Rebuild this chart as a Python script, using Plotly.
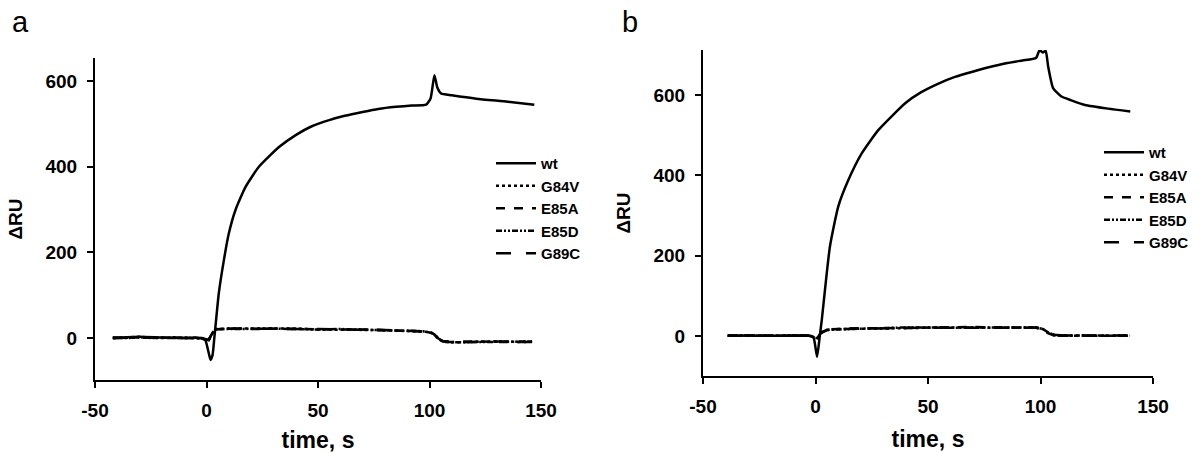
import plotly.graph_objects as go

# ---------------- Panel a data ----------------
a_wt_t = [-42, -30, -20, -10, -2, -0.5, 1, 1.8, 2.7, 3.5, 4.0, 5.5, 7.8, 10, 13, 17.5, 23.5,
          32.5, 40, 47, 55, 62, 70, 77, 85, 92, 98.5, 100.5, 102.2, 103.5, 105.2, 110, 121, 135, 147]
a_wt_v = [0, 3, 1, 0, 0, -5, -35, -51, -40, 0, 26, 104, 182, 244, 299, 353, 400,
          446, 474, 494, 509, 519, 528, 535, 540, 543, 545, 560, 614, 585, 571, 567, 559, 552, 545]

a_mut_t = [-42, -35, -30, -25, -20, -15, -10, -5, -1, 1, 2.5, 4, 10, 20, 30, 40, 50, 60, 70,
           80, 90, 97, 100, 102, 104, 106, 110, 120, 130, 140, 146]
a_g84v = [0, 1, 3, 1, 0, 1, 0, 0, -3, -4, 10, 21, 22, 22, 21, 22, 20, 20, 19,
          18, 17, 15, 14, 10, -2, -8, -10, -9, -8, -9, -8]
a_e85a = [0, 0, 2, 1, 0, 0, 1, 0, -2, -5, 9, 20, 22, 21, 22, 21, 21, 20, 20,
          19, 18, 16, 14, 9, -3, -9, -9, -8, -9, -8, -9]
a_e85d = [1, 0, 2, 0, 1, 0, 0, 1, -3, -4, 11, 21, 21, 22, 22, 21, 20, 21, 19,
          18, 17, 16, 13, 10, -2, -8, -10, -9, -9, -8, -8]
a_g89c = [0, 1, 2, 1, 0, 1, 0, 0, -2, -4, 10, 20, 22, 22, 21, 22, 21, 20, 20,
          19, 17, 15, 14, 11, -1, -7, -9, -9, -8, -9, -9]

# ---------------- Panel b data ----------------
b_wt_t = [-39, -30, -20, -10, -2, -0.8, 0.7, 1.9, 2.8, 4.2, 6.4, 10.1, 14.6, 20.6, 28, 40, 47,
          54.9, 62, 69.8, 77, 84.7, 92, 98, 99.6, 100.5, 101.1, 102.3, 103.4, 105.6, 109.3,
          114, 119.8, 130, 139.9]
b_wt_v = [0, 1, 0, 1, 0, -5, -52, 0, 40, 114, 222, 322, 388, 455, 513, 580, 607,
          629, 645, 658, 669, 679, 686, 692, 712, 708, 706, 710, 671, 617, 596,
          586, 575, 566, 559]

b_mut_t = [-39, -30, -20, -10, -3, -1, 1, 2.5, 5, 10, 20, 30, 40, 50, 60, 70, 80, 90, 98,
           101, 103.3, 106, 110, 120, 130, 139.8]
b_g84v = [0, 0, 1, 0, 0, -3, -6, 8, 15, 17, 18, 19, 20, 21, 21, 21, 20, 21, 21,
          17, 8, 2, 0, 1, 0, 1]
b_e85a = [0, 1, 0, 0, 1, -2, -5, 9, 16, 17, 19, 19, 20, 20, 21, 22, 21, 20, 20,
          16, 7, 1, 1, 0, 1, 0]
b_e85d = [1, 0, 0, 1, 0, -3, -6, 7, 15, 16, 18, 20, 21, 21, 20, 21, 21, 21, 21,
          17, 9, 2, 0, 1, 1, 0]
b_g89c = [0, 0, 1, 0, 0, -2, -5, 8, 14, 17, 18, 19, 20, 21, 21, 20, 21, 20, 21,
          16, 8, 3, 1, 0, 0, 1]

x_ticks = [-50, 0, 50, 100, 150]
x_tick_labels = ["-50", "0", "50", "100", "150"]
y_ticks = [0, 200, 400, 600]
y_tick_labels = ["0", "200", "400", "600"]

names = ["wt", "G84V", "E85A", "E85D", "G89C"]
dashes = ["solid", "dot", "dash", "6px,2px,2px,2px,2px,2px", "longdash"]

FONT = "Liberation Sans, Arial, sans-serif"

fig = go.Figure()

panels = [
    ("x", "y", "legend", a_wt_t, a_wt_v, a_mut_t, [a_g84v, a_e85a, a_e85d, a_g89c]),
    ("x2", "y2", "legend2", b_wt_t, b_wt_v, b_mut_t, [b_g84v, b_e85a, b_e85d, b_g89c]),
]
for xa, ya, lg, wt_t, wt_v, mt, muts in panels:
    fig.add_trace(go.Scatter(x=wt_t, y=wt_v, mode="lines", name=names[0],
                             line=dict(color="black", width=2.5, dash=dashes[0],
                                       shape="spline", smoothing=0.5),
                             xaxis=xa, yaxis=ya, legend=lg))
    for i, vals in enumerate(muts):
        fig.add_trace(go.Scatter(x=mt, y=vals, mode="lines", name=names[i + 1],
                                 line=dict(color="black", width=2.5, dash=dashes[i + 1]),
                                 xaxis=xa, yaxis=ya, legend=lg))

axis_common = dict(showline=True, linecolor="black", linewidth=2, ticks="outside",
                   ticklen=6, tickwidth=2, tickcolor="black", showgrid=False, zeroline=False,
                   tickfont=dict(family=FONT, size=19, color="black", weight="bold"),
                   mirror=False, automargin=False)

W, H = 1203, 453
xtitle = dict(text="time, s", font=dict(family=FONT, size=23, weight="bold"), standoff=15)
ytitle = dict(text="ΔRU", font=dict(family=FONT, size=19, weight="bold"), standoff=18)
legend_font = dict(family=FONT, size=15, weight="bold", color="black")

fig.update_layout(
    width=W, height=H, margin=dict(l=0, r=0, t=0, b=0, autoexpand=False),
    plot_bgcolor="white", paper_bgcolor="white",
    font=dict(family=FONT, color="black"),
    xaxis=dict(domain=[95 / W, 541 / W], range=[-50, 150], tickvals=x_ticks, ticktext=x_tick_labels,
               anchor="y", ticklabelstandoff=6, title=xtitle, **axis_common),
    yaxis=dict(domain=[1 - 380 / H, 1 - 58 / H], range=[-98, 654], tickvals=y_ticks, ticktext=y_tick_labels,
               anchor="x", ticklabelstandoff=6, title=ytitle, **axis_common),
    xaxis2=dict(domain=[703 / W, 1153 / W], range=[-50, 150], tickvals=x_ticks, ticktext=x_tick_labels,
                anchor="y2", ticklabelstandoff=6, title=xtitle, **axis_common),
    yaxis2=dict(domain=[1 - 376 / H, 1 - 50 / H], range=[-100, 712], tickvals=y_ticks, ticktext=y_tick_labels,
                anchor="x2", ticklabelstandoff=6, title=ytitle, **axis_common),
    legend=dict(x=491 / W, y=1 - 147 / H, xanchor="left", yanchor="top",
                bgcolor="rgba(0,0,0,0)", itemwidth=40, tracegroupgap=0, font=legend_font),
    legend2=dict(x=1099 / W, y=1 - 136 / H, xanchor="left", yanchor="top",
                 bgcolor="rgba(0,0,0,0)", itemwidth=40, tracegroupgap=0, font=legend_font),
    annotations=[
        dict(text="a", x=10 / W, y=1 - 4 / H, xref="paper", yref="paper", xanchor="left",
             yanchor="top", showarrow=False, font=dict(family=FONT, size=29, color="black")),
        dict(text="b", x=620 / W, y=1 - 4 / H, xref="paper", yref="paper", xanchor="left",
             yanchor="top", showarrow=False, font=dict(family=FONT, size=29, color="black")),
    ],
)

fig.write_html("out.html")
